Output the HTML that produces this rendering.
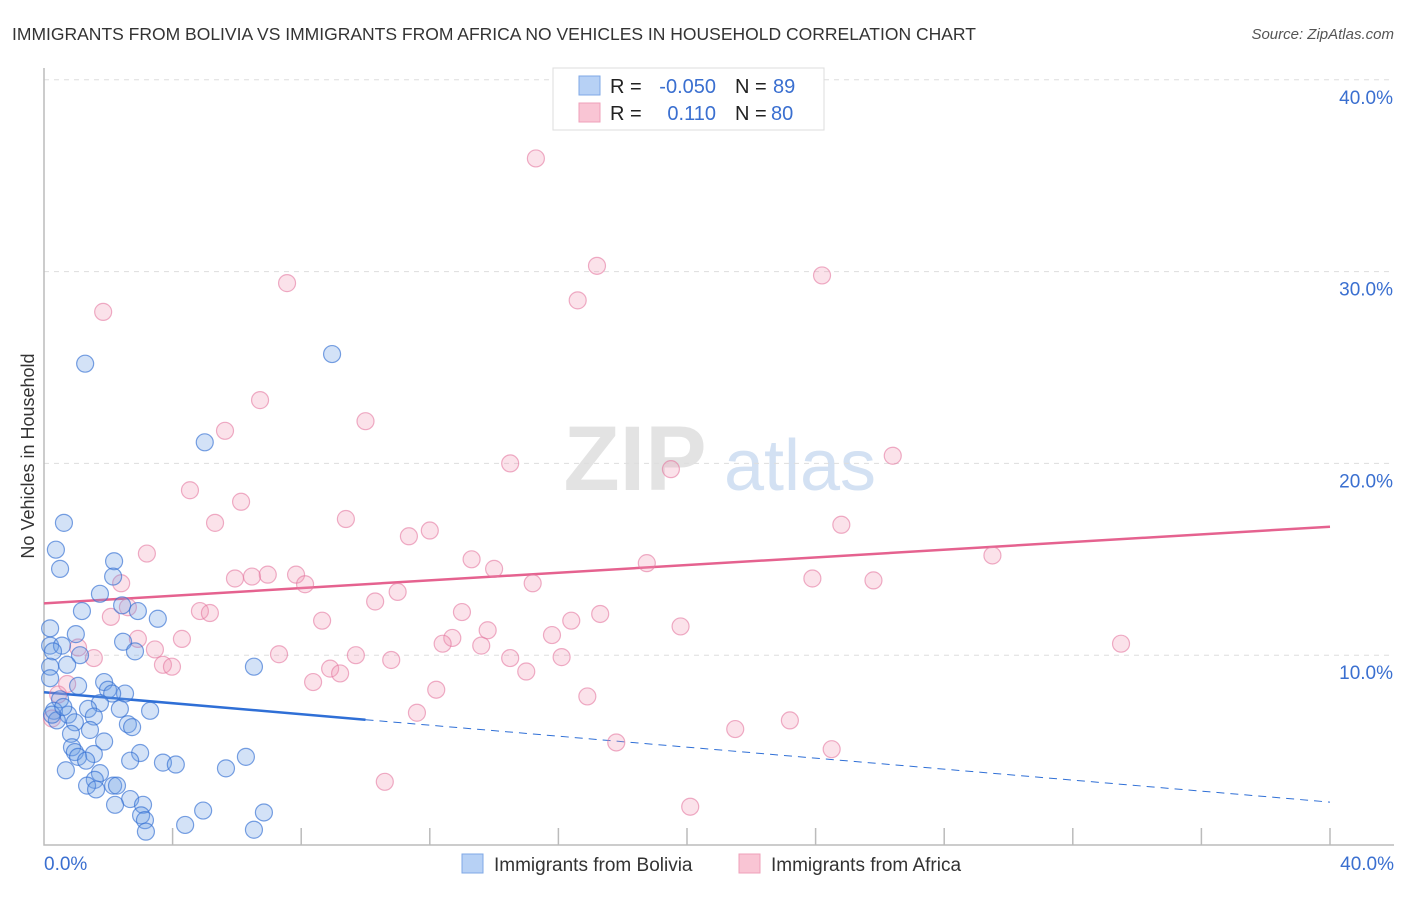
<!DOCTYPE html>
<html><head><meta charset="utf-8"><style>
body{margin:0;background:#fff;font-family:"Liberation Sans",sans-serif;}
svg text{font-family:"Liberation Sans",sans-serif;}
</style></head><body>
<svg id="chart" width="1406" height="892" viewBox="0 0 1406 892" xmlns="http://www.w3.org/2000/svg">
<text x="12" y="40" font-size="17.5" fill="#333">IMMIGRANTS FROM BOLIVIA VS IMMIGRANTS FROM AFRICA NO VEHICLES IN HOUSEHOLD CORRELATION CHART</text>
<text x="1394" y="39" font-size="15" fill="#555" font-style="italic" text-anchor="end">Source: ZipAtlas.com</text>
<text x="0" y="0" font-size="18" fill="#333" transform="translate(34,456) rotate(-90)" text-anchor="middle">No Vehicles in Household</text>
<g>
<text x="635" y="490" font-size="92" fill="#e3e3e3" font-family="Liberation Serif" text-anchor="middle" font-weight="bold">ZIP</text>
<text x="800" y="490" font-size="72" fill="#d3e1f3" text-anchor="middle">atlas</text>
</g>
<g id="grid"></g>
<g id="axes"></g>
<g id="trend"></g>
<g id="pts"></g>
<g>
<rect x="553" y="68" width="271" height="62" fill="#fff" stroke="#ddd"/>
<rect x="579" y="76" width="21" height="19" fill="#b7d1f5" stroke="#7fa8e6"/>
<rect x="579" y="103" width="21" height="19" fill="#f9c5d4" stroke="#efa0ba"/>
<text x="610" y="93" font-size="20" fill="#222">R =</text>
<text x="716" y="93" font-size="20" fill="#3a6fd0" text-anchor="end">-0.050</text>
<text x="735" y="93" font-size="20" fill="#222">N =</text>
<text x="773" y="93" font-size="20" fill="#3a6fd0">89</text>
<text x="610" y="120" font-size="20" fill="#222">R =</text>
<text x="716" y="120" font-size="20" fill="#3a6fd0" text-anchor="end">0.110</text>
<text x="735" y="120" font-size="20" fill="#222">N =</text>
<text x="771" y="120" font-size="20" fill="#3a6fd0">80</text>
</g>
<g>
<rect x="462" y="854" width="21" height="19" fill="#b7d1f5" stroke="#7fa8e6"/>
<text x="494" y="871" font-size="19" fill="#333">Immigrants from Bolivia</text>
<rect x="739" y="854" width="21" height="19" fill="#f9c5d4" stroke="#efa0ba"/>
<text x="771" y="871" font-size="19" fill="#333">Immigrants from Africa</text>
</g>
</svg>
<script>
const yTicks=[10,20,30,40];
const xTickCount=10;
const blueTrend=[8.07,2.34];
const pinkTrend=[12.7,16.7];
const blueX=[1.28,8.96,5.0,0.62,0.37,0.5,2.18,2.15,1.74,1.18,2.43,2.92,3.54,0.19,0.99,2.46,0.19,0.56,0.28,2.83,1.12,0.72,0.19,6.53,0.19,1.06,1.87,1.99,2.52,2.12,0.5,1.74,0.31,1.37,3.3,2.36,0.75,1.55,0.4,0.96,2.61,2.74,1.43,0.84,1.87,0.87,0.96,1.55,2.99,1.06,1.31,2.68,3.7,4.1,6.28,0.68,1.74,5.66,1.58,1.34,2.15,1.62,2.27,2.68,2.21,3.08,4.95,6.84,3.02,3.14,4.39,3.17,6.53,0.25,0.6];
const blueY=[25.2,25.7,21.1,16.9,15.5,14.5,14.9,14.1,13.2,12.3,12.6,12.3,11.9,11.4,11.1,10.7,10.5,10.5,10.2,10.2,10.0,9.5,9.4,9.4,8.8,8.4,8.6,8.2,8.0,8.0,7.7,7.5,7.1,7.2,7.1,7.2,6.9,6.8,6.6,6.5,6.4,6.25,6.1,5.9,5.5,5.2,4.95,4.85,4.9,4.7,4.5,4.5,4.4,4.3,4.7,4.0,3.85,4.1,3.5,3.2,3.2,3.0,3.2,2.5,2.2,2.2,1.9,1.8,1.65,1.4,1.15,0.8,0.9,6.9,7.3];
const pinkX=[15.3,17.2,24.2,7.56,16.6,1.84,6.72,10.0,5.63,14.5,19.5,26.4,4.54,6.13,5.32,9.39,24.8,12.0,11.35,3.2,13.3,18.75,29.5,14.0,5.94,6.47,6.96,7.84,8.12,2.4,15.2,23.9,25.8,11.0,10.3,4.85,5.16,13.0,17.3,8.65,16.4,2.08,2.61,13.8,19.8,2.92,4.29,15.8,12.7,12.4,13.6,33.5,3.45,1.06,1.55,7.31,9.7,10.8,14.5,16.1,3.7,3.98,8.9,9.21,15.0,8.37,12.2,16.9,0.44,11.6,23.2,21.5,17.8,24.5,10.6,20.1,0.72,0.25];
const pinkY=[35.9,30.3,29.8,29.4,28.5,27.9,23.3,22.2,21.7,20.0,19.7,20.4,18.6,18.0,16.9,17.1,16.8,16.5,16.2,15.3,15.0,14.8,15.2,14.5,14.0,14.1,14.2,14.2,13.7,13.75,13.75,14.0,13.9,13.3,12.8,12.3,12.2,12.25,12.15,11.8,11.8,12.0,12.5,11.3,11.5,10.85,10.85,11.05,10.9,10.6,10.5,10.6,10.3,10.4,9.85,10.05,10.0,9.75,9.85,9.9,9.5,9.4,9.3,9.05,9.15,8.6,8.2,7.85,7.95,7.0,6.6,6.15,5.45,5.1,3.4,2.1,8.5,6.7];
const X=v=>44+v/40*1286;
const Y=v=>847-v*19.18;
const NS='http://www.w3.org/2000/svg';
function mk(tag,attrs,parent){const e=document.createElementNS(NS,tag);for(const k in attrs)e.setAttribute(k,attrs[k]);parent.appendChild(e);return e;}
const grid=document.getElementById('grid'),axes=document.getElementById('axes'),trend=document.getElementById('trend'),pts=document.getElementById('pts');
yTicks.forEach(t=>{
  const l=mk('line',{x1:44,x2:1394,y1:Y(t),y2:Y(t),stroke:'#ddd','stroke-dasharray':'5,5'},grid);
  
  
  const tx=mk('text',{x:1393,y:Y(t)+24,'font-size':19,fill:'#3a6fd0','text-anchor':'end'},axes);
  tx.textContent=t.toFixed(1)+'%';
  
  
});
const ax=mk('path',{d:'M44 68 V845 H1394',fill:'none',stroke:'#bbb','stroke-width':1.5},axes);


for(let i=1;i<=xTickCount;i++){
  const t=mk('line',{x1:X(i*4),x2:X(i*4),y1:828,y2:845,stroke:'#bbb','stroke-width':1.5},axes);
  
  
}
const x0=mk('text',{x:44,y:870,'font-size':19,fill:'#3a6fd0'},axes);x0.textContent='0.0%';


const x1=mk('text',{x:1394,y:870,'font-size':19,fill:'#3a6fd0','text-anchor':'end'},axes);x1.textContent='40.0%';


function drawPts(xs,ys,fill,stroke,name){
  xs.forEach((x,i)=>{
    const c=mk('circle',{cx:X(x),cy:Y(ys[i]),r:8.5,fill:fill,stroke:stroke,'stroke-width':1.2},pts);
    
    
  });
}
drawPts(pinkX,pinkY,'rgba(242,150,180,0.28)','rgba(228,120,160,0.6)','africa-point');
drawPts(blueX,blueY,'rgba(110,160,230,0.3)','rgba(50,110,210,0.65)','bolivia-point');
const by=x=>blueTrend[0]+(blueTrend[1]-blueTrend[0])*x/40;
const b1=mk('line',{x1:X(0),y1:Y(by(0)),x2:X(10),y2:Y(by(10)),stroke:'#2f6fd6','stroke-width':2.5},trend);


const b2=mk('line',{x1:X(10),y1:Y(by(10)),x2:X(40),y2:Y(by(40)),stroke:'#2f6fd6','stroke-width':1,'stroke-dasharray':'8,6'},trend);


const p1=mk('line',{x1:X(0),y1:Y(pinkTrend[0]),x2:X(40),y2:Y(pinkTrend[1]),stroke:'#e5628f','stroke-width':2.5},trend);


</script>
</body></html>
